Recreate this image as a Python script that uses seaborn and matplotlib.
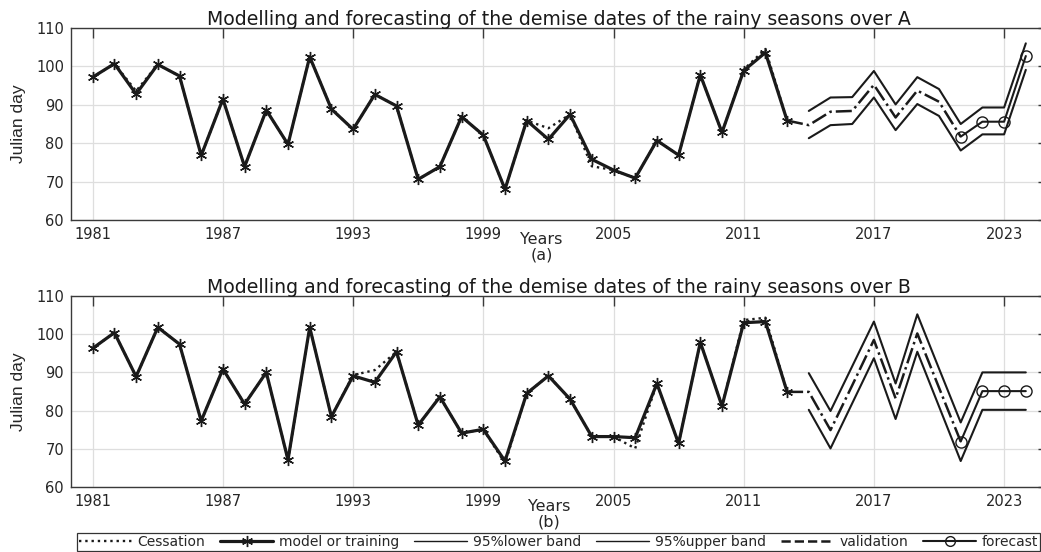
import matplotlib
matplotlib.use("Agg")
import matplotlib.pyplot as plt
from matplotlib.lines import Line2D
import seaborn as sns

# ---- data -------------------------------------------------------------
years_obs = list(range(1981, 2014))
years_val = list(range(2013, 2022))
years_band = list(range(2014, 2025))
years_fc = list(range(2021, 2025))
xtick_years = [1981, 1987, 1993, 1999, 2005, 2011, 2017, 2023]
ytick_vals = [60, 70, 80, 90, 100, 110]

# Region A
a_cessation = [97.2, 100.7, 93.6, 100.5, 97.5, 76.8, 91.5, 73.9, 88.6, 79.7,
               102.5, 88.9, 83.6, 92.7, 89.7, 70.6, 73.9, 86.9, 82.1, 68.0,
               85.9, 83.9, 87.5, 74.0, 73.0, 70.9, 80.7, 76.9, 97.8, 82.8,
               99.2, 104.5, 85.9]
a_model = [97.2, 100.7, 92.8, 100.5, 97.5, 76.8, 91.5, 73.9, 88.6, 79.7,
           102.5, 88.9, 83.6, 92.7, 89.7, 70.6, 73.9, 86.9, 82.1, 68.0,
           85.9, 81.0, 87.5, 75.8, 73.0, 70.9, 80.7, 76.9, 97.8, 82.8,
           98.9, 103.6, 85.9]
a_validation = [85.9, 84.7, 88.2, 88.4, 95.2, 86.7, 93.7, 90.8, 81.7]
a_forecast = [81.7, 85.6, 85.6, 102.7]
a_lower = [81.3, 84.7, 85.0, 91.9, 83.4, 90.2, 87.1, 78.1, 82.3, 82.3, 99.1]
a_upper = [88.4, 91.9, 92.0, 98.8, 90.1, 97.2, 94.1, 85.0, 89.3, 89.3, 106.0]

# Region B
b_cessation = [96.3, 100.4, 88.9, 101.8, 97.4, 77.3, 90.9, 81.7, 90.0, 67.1,
               101.8, 78.4, 89.3, 90.6, 95.4, 76.2, 83.6, 74.1, 75.1, 66.2,
               84.5, 89.1, 83.0, 73.2, 73.2, 70.1, 87.1, 71.4, 97.9, 81.2,
               103.7, 104.3, 84.9]
b_model = [96.3, 100.4, 88.9, 101.8, 97.4, 77.3, 90.9, 81.7, 90.0, 67.1,
           101.8, 78.4, 89.1, 87.4, 95.4, 76.2, 83.6, 74.1, 75.1, 66.8,
           84.5, 89.1, 83.0, 73.2, 73.2, 72.9, 87.1, 71.4, 97.9, 81.2,
           103.0, 103.3, 84.9]
b_validation = [84.9, 84.9, 74.9, 86.6, 98.5, 83.2, 100.2, 86.0, 71.9]
b_forecast = [71.9, 85.1, 85.1, 85.1]
b_lower = [80.2, 70.1, 81.9, 93.7, 77.8, 95.4, 81.1, 66.8, 80.2, 80.2, 80.2]
b_upper = [89.8, 79.9, 91.6, 103.3, 87.1, 105.2, 91.0, 76.9, 90.0, 90.0, 90.0]

legend_labels = ["Cessation", "model or training", "95%lower band",
                 "95%upper band", "validation", "forecast"]

# ---- style ------------------------------------------------------------
sns.set_theme(style="white")
plt.rcParams["font.family"] = ["DejaVu Sans"]
TXT = "#262626"
NARROW = ["Liberation Sans Narrow", "Liberation Sans", "DejaVu Sans"]
ASTERISK = (6, 2, 0)  # six-spoke asterisk marker

W, H = 1041, 552
fig = plt.figure(figsize=(W / 100, H / 100), dpi=100)


def px_axes(left, top, right, bottom):
    return fig.add_axes([left / W, 1 - bottom / H, (right - left) / W,
                         (bottom - top) / H])


def draw_panel(ax, cess, model, val, fc, lower, upper, title, xlab, xlab_x):
    sns.lineplot(x=years_obs, y=cess, ax=ax, color="k", linestyle=":",
                 linewidth=1.7)
    sns.lineplot(x=years_obs, y=model, ax=ax, color="k", linewidth=2.3,
                 marker=ASTERISK, markersize=8, markeredgewidth=1.0,
                 markeredgecolor="k")
    sns.lineplot(x=years_band, y=lower, ax=ax, color="k", linewidth=1.5)
    sns.lineplot(x=years_band, y=upper, ax=ax, color="k", linewidth=1.5)
    sns.lineplot(x=years_val, y=val, ax=ax, color="k", linestyle="-.",
                 linewidth=1.8)
    sns.lineplot(x=years_fc, y=fc, ax=ax, color="k", linewidth=1.5,
                 marker="o", markersize=8, markerfacecolor="none",
                 markeredgecolor="k", markeredgewidth=1.0)

    ax.set_xlim(1980, 2025)
    ax.set_ylim(60, 110)
    ax.set_xticks(xtick_years)
    ax.set_yticks(ytick_vals)
    ax.grid(True, color="#dedede", linewidth=0.9)
    ax.set_axisbelow(True)
    for s in ax.spines.values():
        s.set_color("#3a3a3a")
        s.set_linewidth(1.0)
        s.set_visible(True)
    ax.tick_params(direction="in", length=7, width=1.0, top=True,
                   right=True, labelsize=10.5, labelcolor=TXT,
                   color="#3a3a3a", pad=5)
    ax.set_title(title, fontsize=13.6, color="#1a1a1a", pad=2)
    ax.set_ylabel("Julian day", fontsize=12.5, color=TXT, family=NARROW)
    ax.yaxis.set_label_coords(-0.046, 0.5)
    ax.set_xlabel(xlab, fontsize=11.5, color=TXT, linespacing=1.0)
    ax.xaxis.set_label_coords(xlab_x, -0.065)


ax_a = px_axes(71, 28, 1047.5, 220)
draw_panel(ax_a, a_cessation, a_model, a_validation, a_forecast, a_lower,
           a_upper,
           "Modelling and forecasting of the demise dates of the rainy seasons over A",
           "Years\n(a)", 0.482)

ax_b = px_axes(71, 296, 1047.5, 487)
draw_panel(ax_b, b_cessation, b_model, b_validation, b_forecast, b_lower,
           b_upper,
           "Modelling and forecasting of the demise dates of the rainy seasons over B",
           "Years\n(b)", 0.49)

handles = [
    Line2D([], [], color="k", linestyle=":", linewidth=1.7),
    Line2D([], [], color="k", linewidth=2.3, marker=ASTERISK, markersize=8,
           markeredgewidth=1.0),
    Line2D([], [], color="k", linewidth=1.0),
    Line2D([], [], color="k", linewidth=1.0),
    Line2D([], [], color="k", linestyle="--", linewidth=1.8),
    Line2D([], [], color="k", linewidth=1.5, marker="o", markersize=7,
           markerfacecolor="none"),
]
leg = fig.legend(handles, legend_labels, loc="lower left",
                 bbox_to_anchor=(77 / W, 1 / H, 963 / W, 18 / H),
                 mode="expand", ncol=6, fontsize=10, frameon=True,
                 fancybox=False, edgecolor="#333333", framealpha=1,
                 handlelength=3.8, handletextpad=0.4, columnspacing=1.2,
                 borderpad=0.15, borderaxespad=0)
plt.setp(leg.get_texts(), color=TXT)
leg.get_frame().set_linewidth(0.9)

fig.savefig("out.png", dpi=100)
